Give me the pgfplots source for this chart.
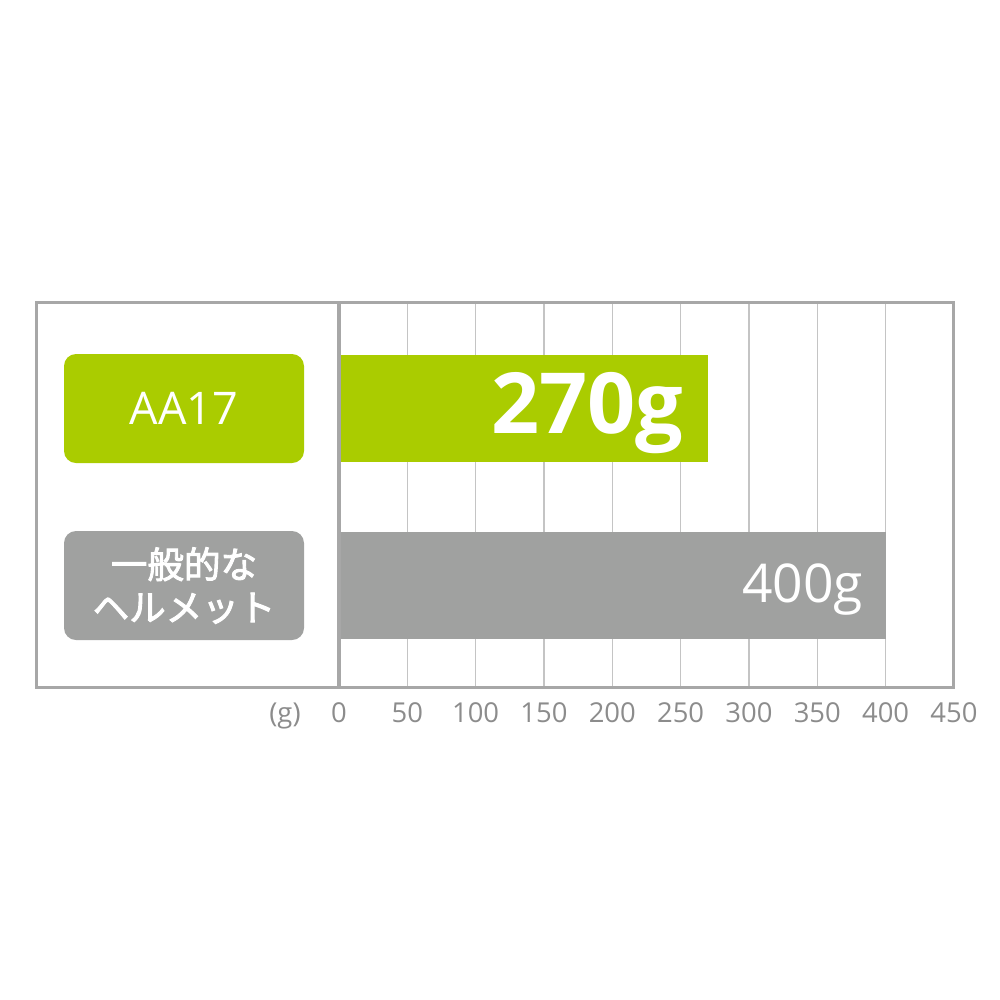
\documentclass[border=0pt]{standalone}
\usepackage{fontspec}
\setmainfont{Open Sans}
\newfontfamily\cjk[FakeBold=2.5]{Noto Sans CJK JP}
\usepackage{pgfplots}
\pgfplotsset{compat=1.18}

\definecolor{barGreen}{RGB}{170,204,0}
\definecolor{barGray}{RGB}{160,161,160}
\definecolor{frameGray}{RGB}{167,167,167}
\definecolor{gridGray}{RGB}{196,196,196}
\definecolor{tickGray}{RGB}{140,140,140}

% 1 px of the reference = 0.1 mm
\begin{document}
\begin{tikzpicture}
  \begin{axis}[
      scale only axis,
      width=61.5mm, height=38.5mm,
      xmin=0, xmax=450,
      ymin=-0.5734, ymax=1.6017,
      xbar, bar shift=0pt, bar width=0.61,
      xtick={0,50,...,450},
      ytick=\empty,
      major tick length=0pt,
      xmajorgrids,
      grid style={gridGray, line width=0.15mm},
      axis line style={frameGray, line width=0.3mm},
      /pgf/number format/assume math mode=true,
      xticklabel style={anchor=base, yshift=-3.5mm, font=\fontsize{7.8}{9}\selectfont, text=tickGray},
      clip=false,
    ]

    % AA17
    \addplot[fill=barGreen, draw=none,
      nodes near coords={\pgfmathprintnumber{\pgfplotspointmeta}g},
      nodes near coords style={anchor=base east, inner sep=0pt, xshift=-2.4mm, yshift=-2.45mm,
        text=white, font=\bfseries\fontsize{24}{28}\selectfont},
      point meta=x] coordinates {(270,1)};

    % 一般的なヘルメット
    \addplot[fill=barGray, draw=none,
      nodes near coords={\pgfmathprintnumber{\pgfplotspointmeta}g},
      nodes near coords style={anchor=base east, inner sep=0pt, xshift=-2.2mm, yshift=-1.65mm,
        text=white, font=\fontsize{15.2}{18}\selectfont},
      point meta=x] coordinates {(400,0)};

    % left part of the frame and the divider at 0
    \draw[frameGray, line width=0.3mm]
      (axis cs:0,1.6017) -- (axis cs:-221,1.6017) -- (axis cs:-221,-0.5734) -- (axis cs:0,-0.5734);
    \draw[frameGray, line width=0.45mm] (axis cs:0,1.6017) -- (axis cs:0,-0.5734);

    % category labels
    \node[fill=barGreen, rounded corners=1.2mm, minimum width=24mm, minimum height=10.9mm,
      text=white, font=\fontsize{12.8}{14}\selectfont] at (axis cs:-113.4,1) {AA17};
    \node[fill=barGray, rounded corners=1.2mm, minimum width=24mm, minimum height=10.9mm,
      text=white, align=center, font=\cjk\fontsize{10.4}{12.2}\selectfont] at (axis cs:-113.4,0)
      {一般的な\\ヘルメット};

    % unit
    \node[anchor=base, yshift=-3.5mm, text=tickGray, font=\fontsize{7.8}{9}\selectfont]
      at (axis cs:-39.5,-0.5734) {(g)};

    % page extent
    \path (axis cs:-248.05,-2.3418) rectangle (axis cs:483.66,3.3079);
  \end{axis}
\end{tikzpicture}
\end{document}
